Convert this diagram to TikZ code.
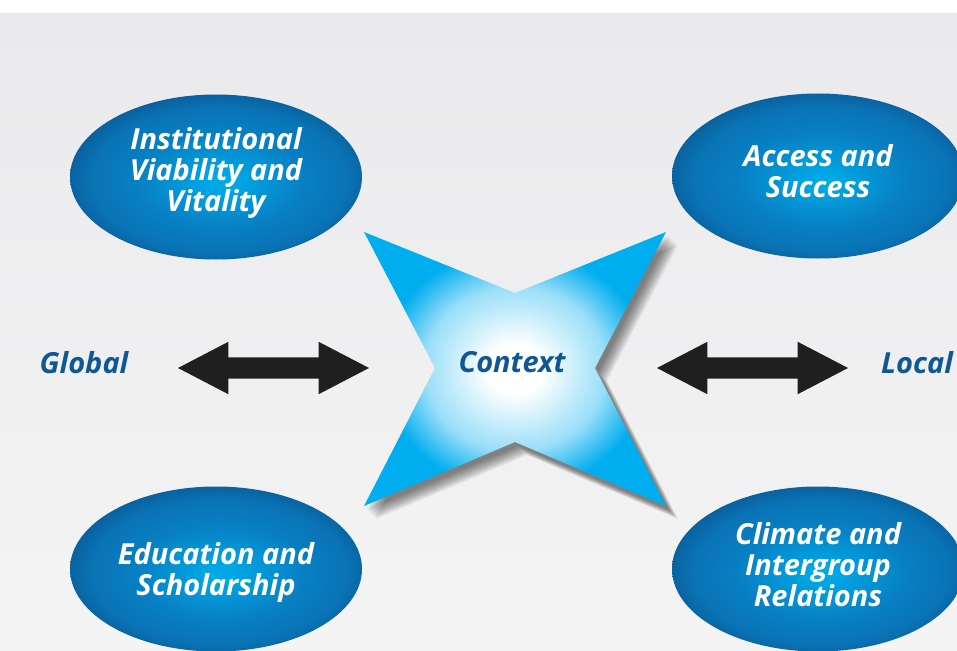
\documentclass[tikz,border=0pt]{standalone}
\usepackage{fontspec}
\setmainfont{Open Sans}
\usetikzlibrary{shapes.geometric,shapes.arrows}

\definecolor{txtblue}{RGB}{16,88,148}
\definecolor{ovaldark}{RGB}{10,96,158}
\definecolor{ovalmid}{RGB}{8,128,196}
\definecolor{ovallight}{RGB}{0,168,230}
\definecolor{ctxcyan}{RGB}{0,174,239}
\colorlet{ctxmid}{ctxcyan!40!white}
\definecolor{bgtop}{RGB}{234,234,236}
\definecolor{bgbot}{RGB}{244,244,245}

\pgfdeclareradialshading{ovalglow}{\pgfpoint{1bp}{-1.5bp}}{color(0bp)=(ovallight); color(2bp)=(ovallight); color(14bp)=(ovalmid); color(22bp)=(ovalmid!60!ovaldark); color(26bp)=(ovaldark); color(50bp)=(ovaldark)}
\pgfdeclareradialshading{ctxglow}{\pgfpoint{0bp}{0bp}}{color(0bp)=(white); color(4.5bp)=(white); color(15bp)=(ctxmid); color(22bp)=(ctxcyan); color(50bp)=(ctxcyan)}

% outline of the star, around (0,0)
\def\starpath{(-151,-136) -- (0,-75) -- (151,-136) -- (80,0) -- (151,138) -- (0,74) -- (-151,138) -- (-80,0) -- cycle}

\begin{document}
\begin{tikzpicture}[
x=1pt, y=-1pt,
font=\fontsize{29}{31}\selectfont\bfseries\itshape
]

\tikzstyle{ov} = [ellipse, shade, shading=ovalglow, minimum width=292pt, minimum height=165pt, inner sep=0pt]
\tikzstyle{ovtxt} = [text=white, align=center, inner sep=0pt]
\tikzstyle{lab} = [text=txtblue]
\tikzstyle{dar} = [double arrow, fill=black!88, minimum height=191pt, inner xsep=0pt, inner ysep=10.5pt, double arrow head extend=15.5pt, double arrow tip angle=55]

\useasboundingbox (0,0) rectangle (957,650);
\clip (0,0) rectangle (957,650);
\fill[white] (0,0) rectangle (957,14);
\shade[top color=bgtop, bottom color=bgbot] (0,14) rectangle (957,650);

% the four ovals
\node[ov] (viab) at (216,177) {};
\node[ov] (acc) at (818,176) {};
\node[ov] (edu) at (216,569) {};
\node[ov] (clim) at (818,569) {};
\node[ovtxt, yshift=4pt] (viabt) at (viab) {Institutional\\Viability and\\Vitality};
\node[ovtxt, yshift=5pt] (acct) at (acc) {Access and\\Success};
\node[ovtxt, yshift=-3pt] (edut) at (edu) {Education and\\Scholarship};
\node[ovtxt, yshift=4pt] (climt) at (clim) {Climate and\\Intergroup\\Relations};

% star in the middle, shadow first
\coordinate (ctx) at (515,368);
\begin{scope}[shift={(ctx)}]
\foreach \s in {1,...,10}
  \fill[black, opacity=0.06] [shift={(2+\s,3+\s)}] \starpath;
\shade[shading=ctxglow] \starpath;
\end{scope}
\node[lab] (ctxt) at (512,362) {Context};

% global / local
\node[lab] (glob) at (84,363) {Global};
\node[lab] (loc) at (917,363) {Local};
\node[dar] (larr) at (273.5,368) {};
\node[dar] (rarr) at (752.5,368) {};

\end{tikzpicture}
\end{document}
